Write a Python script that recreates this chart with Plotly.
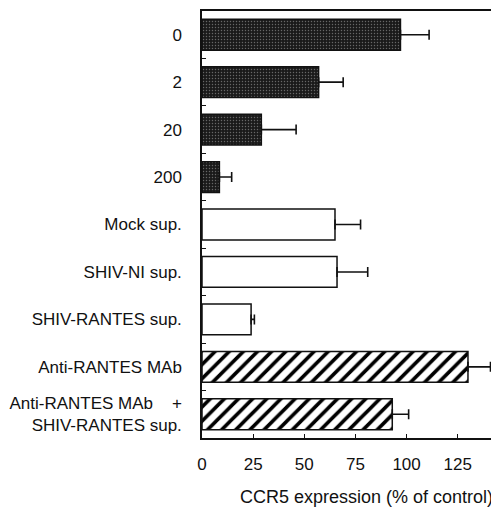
import plotly.graph_objects as go

categories = ["0", "2", "20", "200", "Mock sup.", "SHIV-NI sup.", "SHIV-RANTES sup.",
              "Anti-RANTES MAb", "Anti-RANTES MAb    +<br>SHIV-RANTES sup."]
values = [97, 57, 29, 8.5, 65, 66, 24, 130, 93]
errors = [14, 12, 17, 6, 12.5, 15, 1.6, 11, 8]
groups = ["dark", "dark", "dark", "dark", "open", "open", "open", "hatch", "hatch"]
x_ticks = [0, 25, 50, 75, 100, 125]

style = {
    "dark": dict(color="#1a1a1a", shape=".", fg="#7a7a7a", size=3, sol=0.18, op=0.8),
    "open": dict(color="white", shape="", fg="white", size=8, sol=0.3, op=1),
    "hatch": dict(color="white", shape="/", fg="#000000", size=10, sol=0.36, op=1),
}

fig = go.Figure()
for g in ["dark", "open", "hatch"]:
    idx = [i for i, gg in enumerate(groups) if gg == g]
    s = style[g]
    fig.add_trace(go.Bar(
        x=[values[i] for i in idx],
        y=[categories[i] for i in idx],
        orientation="h",
        width=0.65,
        marker=dict(
            color=s["color"],
            line=dict(color="#111111", width=1.5),
            pattern=dict(shape=s["shape"], bgcolor=s["color"], fgcolor=s["fg"],
                         fgopacity=s["op"], size=s["size"], solidity=s["sol"],
                         fillmode="overlay"),
        ),
        error_x=dict(type="data", array=[errors[i] for i in idx],
                     arrayminus=[0] * len(idx), symmetric=False,
                     color="#111111", thickness=1.6, width=5),
        showlegend=False,
    ))

font = "Liberation Sans, Arial, Helvetica, sans-serif"

fig.update_layout(
    width=491, height=501,
    margin=dict(l=194, r=1, t=2, b=71),
    barmode="overlay",
    plot_bgcolor="white", paper_bgcolor="white",
    font=dict(family=font, color="#111111", size=17),
    xaxis=dict(
        range=[0, 143.7],
        tickvals=x_ticks,
        ticks="inside", ticklen=4, tickwidth=1, tickcolor="#111111",
        showline=True, linecolor="#111111", linewidth=1.5, mirror=True,
        showgrid=False, zeroline=False,
        tickfont=dict(size=17),
        ticklabelstandoff=10,
    ),
    yaxis=dict(
        type="category",
        categoryorder="array", categoryarray=categories,
        autorange="reversed",
        ticks="inside", ticklen=4, tickwidth=1, tickcolor="#111111",
        tickson="boundaries",
        showline=True, linecolor="#111111", linewidth=1.5, mirror=True,
        showgrid=False, zeroline=False,
        tickfont=dict(size=17),
        ticklabelstandoff=15,
    ),
    annotations=[dict(
        text="CCR5 expression (% of control)",
        xref="paper", yref="paper", x=0.559, y=-0.138,
        xanchor="center", yanchor="middle", showarrow=False,
        font=dict(size=18, family=font, color="#111111"),
    )],
)

fig.write_html("out.html")
